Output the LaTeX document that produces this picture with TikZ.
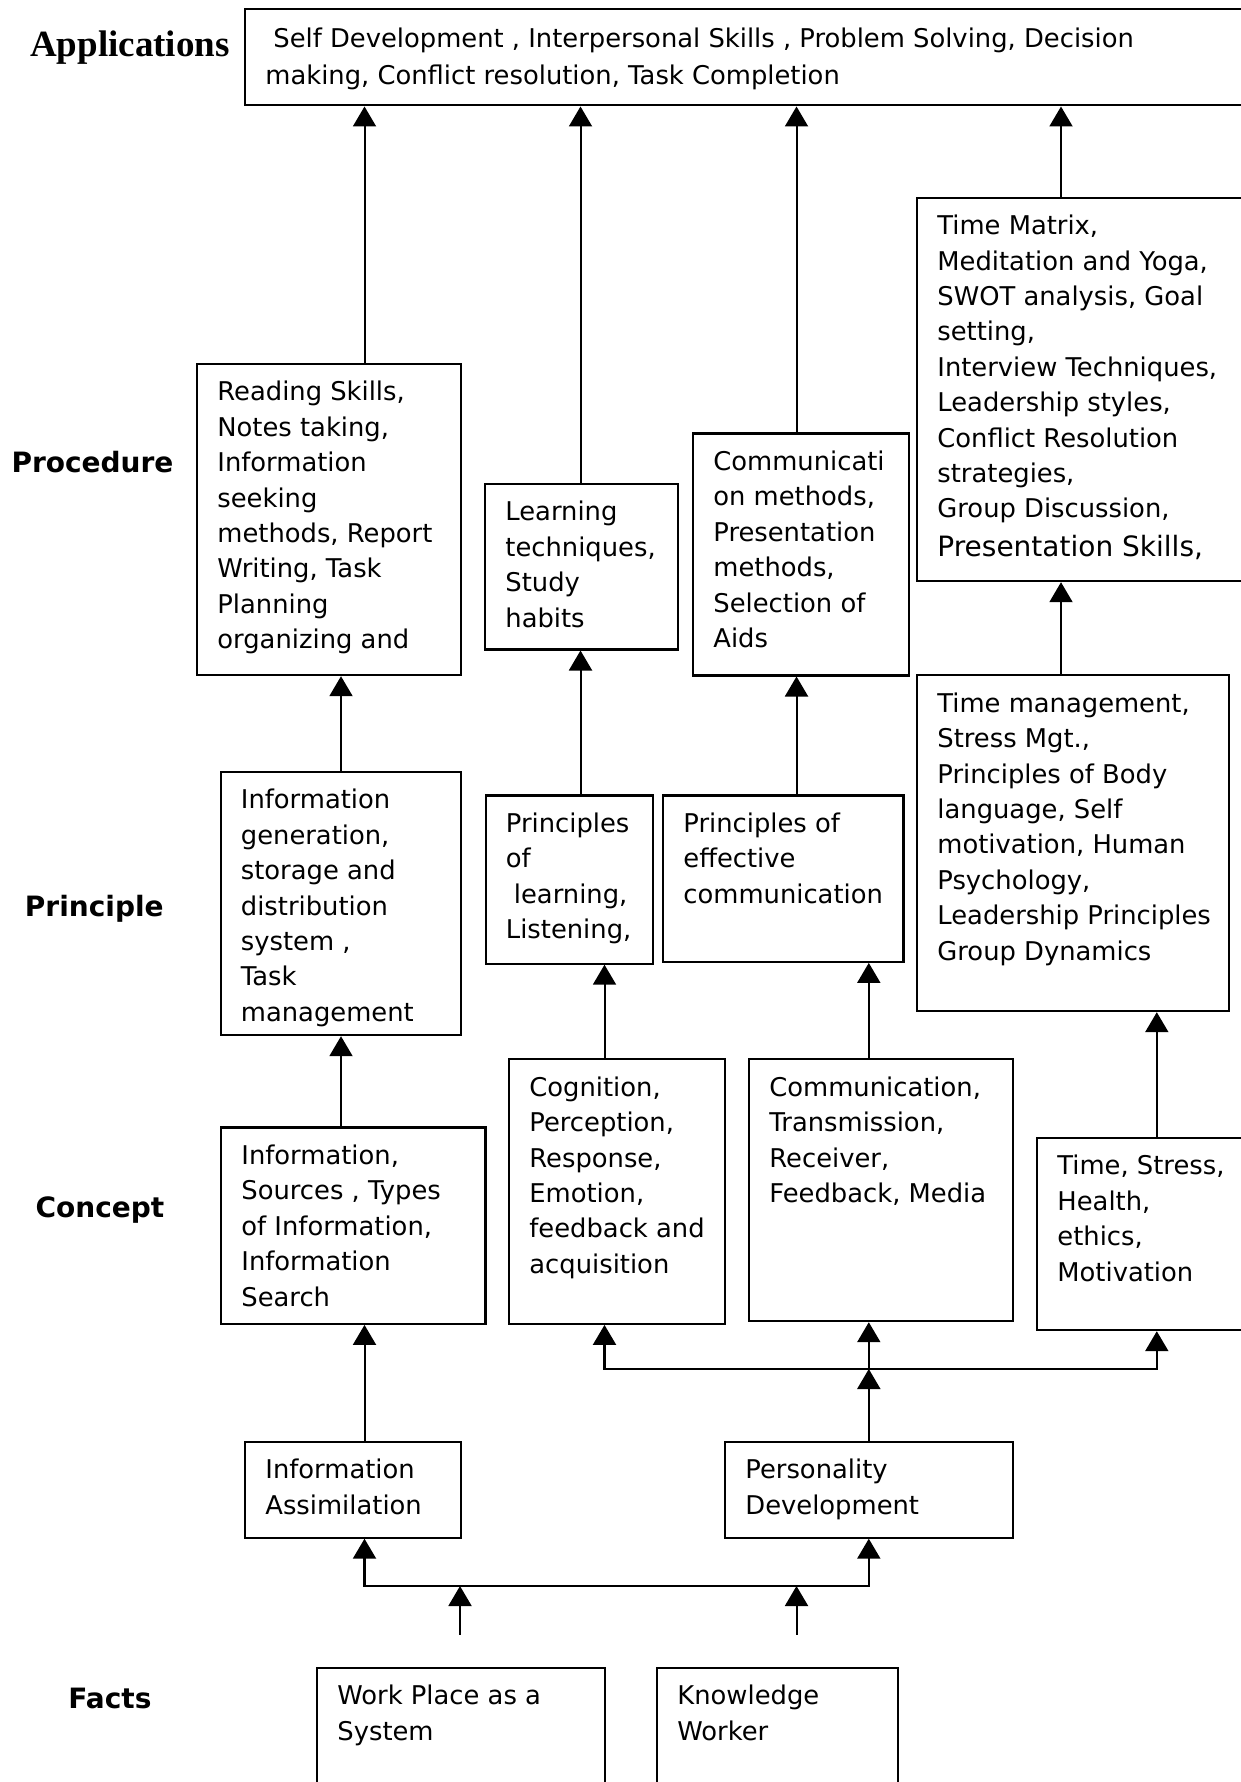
\documentclass[tikz,border=0pt]{standalone}
\usepackage{fontspec}
\setmainfont{DejaVu Sans}
\newfontfamily\headfont{Liberation Serif}
\usetikzlibrary{arrows.meta}

\newcommand{\boxfont}{\fontsize{12.9}{17.7}\selectfont}
\newcommand{\levelfont}{\fontsize{14}{16}\selectfont\bfseries}

\tikzset{
  box/.style 2 args={draw, line width=1.1pt, anchor=north west, inner sep=0pt,
    minimum width=#1*0.5pt, minimum height=#2*0.5pt},
  txt/.style={anchor=north west, align=left, inner sep=0pt, font=\boxfont,
    xshift=10.5pt, yshift=-9.1pt},
  level/.style={anchor=base, font=\levelfont},
  arr/.style={line width=1pt, -{Triangle[width=11.5pt,length=10pt]}},
  arrs/.style={line width=1.1pt,
    {Triangle[width=11.5pt,length=10pt]}-{Triangle[width=11.5pt,length=10pt]}},
}

\begin{document}
\begin{tikzpicture}[x=0.5pt, y=-0.5pt]
    \useasboundingbox (0,0) rectangle (1241,1782);
    \clip (0,0) rectangle (1241,1782);

    % level names
    \node[anchor=base, font=\headfont\bfseries\fontsize{18.5}{20}\selectfont] (lapp) at (130,56.7) {Applications};
    \node[level] (lproc) at (92.5,472) {Procedure};
    \node[level] (lprin) at (94.3,916) {Principle};
    \node[level] (lconc) at (100,1217) {Concept};
    \node[level] (lfact) at (110,1708) {Facts};

    % applications
    \node[box={1040}{96}, label={[txt, yshift=-0.5pt]north west:{\hspace*{4pt}Self Development , Interpersonal Skills , Problem Solving, Decision\\[0.6pt]making, Conflict resolution, Task Completion}}] (app) at (244,8.3) {};

    % procedure
    \node[box={264}{311.3}, label={[txt]north west:{Reading Skills,\\Notes taking,\\Information\\seeking\\methods, Report\\Writing, Task\\Planning\\organizing and}}] (p1) at (196,362.7) {};
    \node[box={193}{165.6}, label={[txt]north west:{Learning\\techniques,\\Study\\habits}}] (p2) at (484,482.7) {};
    \node[box={216}{242}, label={[txt]north west:{Communicati\\on methods,\\Presentation\\methods,\\Selection of\\Aids}}] (p3) at (692,432.3) {};
    \node[box={360}{383.5}, label={[txt]north west:{Time Matrix,\\Meditation and Yoga,\\SWOT analysis, Goal\\setting,\\Interview Techniques,\\Leadership styles,\\Conflict Resolution\\strategies,\\Group Discussion,\\[1.5pt]{\fontsize{14}{17.7}\selectfont Presentation Skills,}}}] (p4) at (916,196.5) {};

    % principle
    \node[box={240.5}{263.3}, label={[txt]north west:{Information\\generation,\\storage and\\distribution\\system ,\\Task\\management}}] (b1) at (219.5,770.7) {};
    \node[box={167.5}{168.2}, label={[txt]north west:{Principles\\of\\\hspace*{4pt}learning,\\Listening,}}] (b2) at (484.5,794.3) {};
    \node[box={240.4}{166.4}, label={[txt]north west:{Principles of\\effective\\communication}}] (b3) at (662,794.3) {};
    \node[box={312}{336}, label={[txt]north west:{Time management,\\Stress Mgt.,\\Principles of Body\\language, Self\\motivation, Human\\Psychology,\\Leadership Principles\\Group Dynamics}}] (b4) at (916,674) {};

    % concept
    \node[box={264.4}{196.4}, label={[txt]north west:{Information,\\Sources , Types\\of Information,\\Information\\Search}}] (c1) at (220,1126.3) {};
    \node[box={216}{264.7}, label={[txt]north west:{Cognition,\\Perception,\\Response,\\Emotion,\\feedback and\\acquisition}}] (c2) at (508,1058) {};
    \node[box={263.5}{262}, label={[txt]north west:{Communication,\\Transmission,\\Receiver,\\Feedback, Media}}] (c3) at (748,1058) {};
    \node[box={240}{192.3}, label={[txt]north west:{Time, Stress,\\Health,\\ethics,\\Motivation}}] (c4) at (1036,1136.7) {};

    % assimilation and development
    \node[box={216}{96}, label={[txt]north west:{Information\\Assimilation}}] (ia) at (244,1440.5) {};
    \node[box={288}{96}, label={[txt]north west:{Personality\\Development}}] (pd) at (724,1440.5) {};

    % facts
    \node[box={288}{150}, label={[txt]north west:{Work Place as a\\System}}] (wp) at (316,1666.7) {};
    \node[box={241}{150}, label={[txt]north west:{Knowledge\\Worker}}] (kw) at (656,1666.7) {};

    % bus points and columns
    \coordinate (wpout) at (460,1634.5);
    \coordinate (kwout) at (796.5,1634.5);
    \coordinate (busaL) at (364.5,1586);
    \coordinate (busaR) at (868.8,1586);
    \coordinate (busbL) at (604.5,1369);
    \coordinate (busbM) at (868.8,1369);
    \coordinate (busbR) at (1156.8,1369);
    \coordinate (colB) at (341,0);
    \coordinate (colD) at (580.5,0);
    \coordinate (colF) at (796.5,0);
    \coordinate (colH) at (1061,0);

    % facts to first bus
    \draw[arr] (wpout) -- (wpout |- busaL);
    \draw[arr] (kwout) -- (kwout |- busaL);
    \draw[arrs] (ia.south -| busaL) -- (busaL) -- (busaR) -- (pd.south -| busaR);

    % information column
    \draw[arr] (ia.north -| busaL) -- (c1.south -| busaL);
    \draw[arr] (c1.north -| colB) -- (b1.south -| colB);
    \draw[arr] (b1.north -| colB) -- (p1.south -| colB);
    \draw[arr] (p1.north -| busaL) -- (app.south -| busaL);

    % personality to second bus
    \draw[arr] (pd.north -| busbM) -- (busbM);
    \draw[arrs] (c2.south -| busbL) -- (busbL) -- (busbR) -- (c4.south -| busbR);
    \draw[arr] (busbM) -- (c3.south -| busbM);

    % learning column
    \draw[arr] (c2.north -| busbL) -- (b2.south -| busbL);
    \draw[arr] (b2.north -| colD) -- (p2.south -| colD);
    \draw[arr] (p2.north -| colD) -- (app.south -| colD);

    % communication column
    \draw[arr] (c3.north -| busbM) -- (b3.south -| busbM);
    \draw[arr] (b3.north -| colF) -- (p3.south -| colF);
    \draw[arr] (p3.north -| colF) -- (app.south -| colF);

    % self column
    \draw[arr] (c4.north -| busbR) -- (b4.south -| busbR);
    \draw[arr] (b4.north -| colH) -- (p4.south -| colH);
    \draw[arr] (p4.north -| colH) -- (app.south -| colH);

\end{tikzpicture}
\end{document}
